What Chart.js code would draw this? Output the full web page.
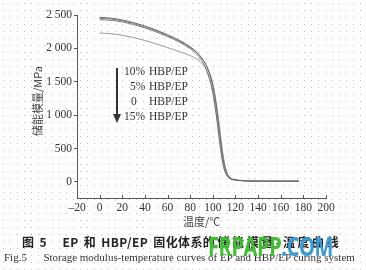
<!DOCTYPE html>
<html>
<head>
<meta charset="utf-8">
<script src="https://cdn.jsdelivr.net/npm/chart.js@4.4.1/dist/chart.umd.min.js"></script>
<style>
  html, body { margin: 0; padding: 0; }
  body {
    width: 366px; height: 270px; position: relative; overflow: hidden;
    background-color: #fff;
    background-image: radial-gradient(#c4c4c4 0.7px, transparent 0.9px);
    background-size: 7px 7px;
  }
  #c { position: absolute; left: 0; top: 0; }
  .t { position: absolute; white-space: nowrap; color: #333; }
  .serif { font-family: "Liberation Serif", "DejaVu Serif", serif; }
  .cjk { font-family: "Noto Sans CJK SC", sans-serif; }
</style>
</head>
<body>
<canvas id="c" width="366" height="270"></canvas>

<!-- axis titles -->
<div class="t cjk" style="left:-3px;top:93px;font-size:11px;transform:rotate(-90deg);transform-origin:center;width:80px;text-align:center;color:#444">储能模量/MPa</div>
<div class="t cjk" style="left:183px;top:213px;font-size:11px;color:#444">温度/℃</div>

<!-- legend with arrow -->
<div style="position:absolute;left:116px;top:68px;width:1.5px;height:48px;background:#333"></div>
<div style="position:absolute;left:113px;top:114px;width:0;height:0;border-left:4px solid transparent;border-right:4px solid transparent;border-top:9px solid #333"></div>
<div class="t serif" style="left:124px;top:65px;font-size:11.5px">10%</div>
<div class="t serif" style="left:130px;top:80px;font-size:11.5px">5%</div>
<div class="t serif" style="left:131px;top:95px;font-size:11.5px">0</div>
<div class="t serif" style="left:124px;top:110px;font-size:11.5px">15%</div>
<div class="t serif" style="left:149px;top:65px;font-size:11.5px">HBP/EP</div>
<div class="t serif" style="left:149px;top:80px;font-size:11.5px">HBP/EP</div>
<div class="t serif" style="left:149px;top:95px;font-size:11.5px">HBP/EP</div>
<div class="t serif" style="left:149px;top:110px;font-size:11.5px">HBP/EP</div>

<!-- captions -->
<div class="t cjk" style="left:22px;top:233px;font-size:12px;font-weight:bold;word-spacing:2px;letter-spacing:0.4px;color:#222">图 5&nbsp;&nbsp;&nbsp;EP 和 HBP/EP 固化体系<span style="letter-spacing:2.6px">的储能模量-温度曲线</span></div>
<div class="t serif" style="left:4px;top:251px;font-size:11px;color:#333">Fig.5&nbsp;&nbsp;&nbsp;&nbsp;&nbsp;&nbsp;Storage modulus-temperature curves of EP and HBP/EP curing system</div>

<!-- watermark -->
<div class="t" style="left:208px;top:232px;line-height:27px;font-family:'Open Sans',sans-serif;font-weight:bold;font-size:27px;letter-spacing:-0.5px;transform:scaleX(0.74);transform-origin:0 0"><span style="color:#3fbf2f">FRPAPP</span><span style="color:#3a9ad6">.COM</span></div>

<script>
// temperature, degC
const temps = [0, 10, 20, 30, 40, 50, 60, 70, 80, 85, 90, 95, 100, 103, 106, 109, 112, 115, 120, 125, 130, 140, 150, 160, 170, 176];

// storage modulus, MPa
const hbp10 = [2465, 2452, 2425, 2385, 2335, 2275, 2205, 2125, 2025, 1955, 1860, 1715, 1440, 1140, 740, 350, 140, 62, 32, 22, 16, 13, 12, 12, 12, 12];
const hbp5  = [2450, 2440, 2412, 2372, 2322, 2262, 2192, 2112, 2012, 1948, 1855, 1720, 1470, 1190, 800, 410, 165, 72, 35, 23, 16, 13, 12, 12, 12, 12];
const hbp0  = [2430, 2420, 2396, 2357, 2307, 2247, 2177, 2097, 1997, 1925, 1820, 1650, 1330, 1010, 610, 265, 105, 52, 28, 20, 15, 13, 12, 12, 12, 12];
const hbp15 = [2230, 2220, 2196, 2162, 2118, 2068, 2012, 1955, 1892, 1850, 1780, 1655, 1360, 1030, 620, 280, 112, 52, 28, 20, 15, 13, 12, 12, 12, 12];

const seriesNames = ['10% HBP/EP', '5% HBP/EP', '0 HBP/EP', '15% HBP/EP'];
const seriesValues = [hbp10, hbp5, hbp0, hbp15];
const lineColors = ['#666', '#888', '#777', '#999'];

const xTicks = [-20, 0, 20, 40, 60, 80, 100, 120, 140, 160, 180, 200];
const yTicks = [0, 500, 1000, 1500, 2000, 2500];

const tickFont = { family: '"Liberation Serif", "DejaVu Serif", serif', size: 11.5 };

function fmtY(v) {
    // thousands separated by a space, like "2 500"
    if (v >= 1000) return Math.floor(v / 1000) + ' ' + String(v % 1000).padStart(3, '0');
    return String(v);
}

// small tick marks pointing up into the plot on the x axis
const innerXTicks = {
    id: 'innerXTicks',
    afterDraw(chart) {
        const ctx = chart.ctx;
        const xs = chart.scales.x;
        const bottom = chart.chartArea.bottom;
        ctx.save();
        ctx.strokeStyle = '#555';
        ctx.lineWidth = 1;
        xTicks.forEach(t => {
            if (t === xTicks[0]) return;
            const px = Math.round(xs.getPixelForValue(t)) + 0.5;
            ctx.beginPath();
            ctx.moveTo(px, bottom);
            ctx.lineTo(px, bottom - 3);
            ctx.stroke();
        });
        ctx.restore();
    }
};

new Chart(document.getElementById('c'), {
    type: 'line',
    data: {
        datasets: seriesNames.map((name, i) => ({
            label: name,
            data: temps.map((t, j) => ({ x: t, y: seriesValues[i][j] })),
            borderColor: lineColors[i],
            borderWidth: 1,
            pointRadius: 0,
            cubicInterpolationMode: 'monotone',
            fill: false,
        })),
    },
    options: {
        responsive: false,
        animation: false,
        devicePixelRatio: 1,
        layout: { padding: { top: 15, right: 40, left: 0, bottom: 0 } },
        plugins: { legend: { display: false }, tooltip: { enabled: false } },
        scales: {
            x: {
                type: 'linear',
                min: -20,
                max: 200,
                afterBuildTicks: s => { s.ticks = xTicks.map(v => ({ value: v })); },
                afterFit: s => { s.height = 72; },
                ticks: {
                    font: tickFont,
                    color: '#333',
                    padding: 3,
                    maxRotation: 0,
                    autoSkip: false,
                    callback: v => String(v).replace('-', '\u2013'),
                },
                grid: { display: false, drawTicks: false, tickLength: 0 },
                border: { display: true, color: '#555', width: 1 },
            },
            y: {
                min: -240,
                max: 2500,
                afterBuildTicks: s => { s.ticks = yTicks.map(v => ({ value: v })); },
                afterFit: s => { s.width = 77; },
                ticks: {
                    font: tickFont,
                    color: '#333',
                    padding: 2,
                    autoSkip: false,
                    callback: v => fmtY(v),
                },
                grid: { display: true, drawOnChartArea: false, drawTicks: true, tickLength: 3, color: '#555' },
                border: { display: true, color: '#555', width: 1 },
            },
        },
    },
    plugins: [innerXTicks],
});
</script>
</body>
</html>
